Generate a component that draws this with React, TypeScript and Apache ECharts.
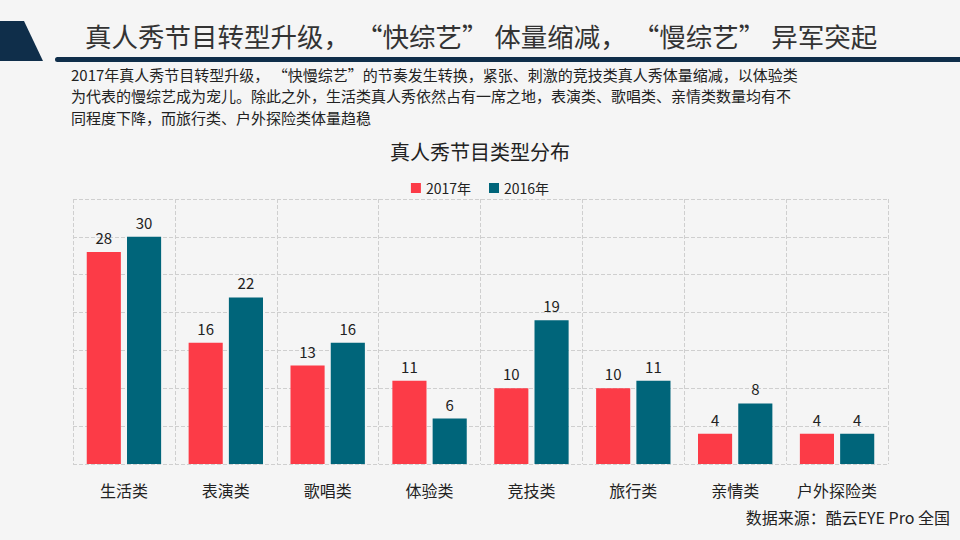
import React, { useEffect, useRef } from "react";
import * as echarts from "echarts";

const categories = ["生活类", "表演类", "歌唱类", "体验类", "竞技类", "旅行类", "亲情类", "户外探险类"];
const values2017 = [28, 16, 13, 11, 10, 10, 4, 4];
const values2016 = [30, 22, 16, 6, 19, 11, 8, 4];
const seriesNames = ["2017年", "2016年"];
const headline = "真人秀节目转型升级， “快综艺” 体量缩减， “慢综艺” 异军突起";
const introLines = [
  "2017年真人秀节目转型升级， “快慢综艺”的节奏发生转换，紧张、刺激的竞技类真人秀体量缩减，以体验类",
  "为代表的慢综艺成为宠儿。除此之外，生活类真人秀依然占有一席之地，表演类、歌唱类、亲情类数量均有不",
  "同程度下降，而旅行类、户外探险类体量趋稳",
];
const chartTitle = "真人秀节目类型分布";
const sourceText = "数据来源：酷云EYE Pro 全国";

const FONT = "'Noto Sans CJK SC', 'Noto Sans', sans-serif";
const RED = "#fc3b47";
const TEAL = "#00657a";
const NAVY = "#0f2e4a";

export default function App() {
  const ref = useRef<HTMLDivElement>(null);
  useEffect(() => {
    if (!ref.current) return;
    const chart = echarts.init(ref.current, null, { renderer: "svg" });
    const labelStyle = {
      show: true,
      position: "top",
      distance: 7,
      fontSize: 15,
      color: "#222",
      fontFamily: FONT,
    };
    chart.setOption({
      animation: false,
      backgroundColor: "#f5f5f5",
      textStyle: { fontFamily: FONT },
      title: {
        text: chartTitle,
        left: "center",
        top: 136,
        textStyle: { fontSize: 20, fontWeight: "normal", color: "#222", fontFamily: FONT },
      },
      legend: {
        top: 176,
        left: "center",
        itemWidth: 10,
        itemHeight: 10,
        itemGap: 18,
        icon: "rect",
        textStyle: { fontSize: 14, color: "#222", fontFamily: FONT },
        data: seriesNames,
      },
      grid: { left: 73, right: 72, top: 199, bottom: 76, containLabel: false },
      xAxis: {
        type: "category",
        data: categories,
        axisLine: { show: false },
        axisTick: { show: false },
        axisLabel: { fontSize: 16, color: "#222", margin: 18, fontFamily: FONT, interval: 0 },
        splitLine: { show: true, lineStyle: { type: "dashed", color: "#cfcfcf" } },
      },
      yAxis: {
        type: "value",
        min: 0,
        max: 35,
        interval: 5,
        axisLine: { show: false },
        axisTick: { show: false },
        axisLabel: { show: false },
        splitLine: { show: true, lineStyle: { type: "dashed", color: "#cfcfcf" } },
      },
      series: [
        {
          name: seriesNames[0],
          type: "bar",
          data: values2017,
          itemStyle: { color: RED },
          barGap: "18%",
          barCategoryGap: "27%",
          label: labelStyle,
        },
        {
          name: seriesNames[1],
          type: "bar",
          data: values2016,
          itemStyle: { color: TEAL },
          barGap: "18%",
          barCategoryGap: "27%",
          label: labelStyle,
        },
      ],
      graphic: [
        {
          type: "polygon",
          shape: { points: [[0, 21], [24, 21], [43, 61], [0, 61]] },
          style: { fill: NAVY },
        },
        {
          type: "rect",
          shape: { x: 55, y: 57, width: 910, height: 5, r: 2.5 },
          style: { fill: NAVY },
        },
        {
          type: "text",
          x: 85,
          y: 35,
          style: {
            text: headline,
            fontSize: 26.5,
            fill: "#333",
            fontFamily: FONT,
            verticalAlign: "middle",
          },
        },
        {
          type: "text",
          x: 71,
          y: 63.5,
          style: {
            text: introLines.join("\n"),
            fontSize: 15,
            lineHeight: 21.5,
            fill: "#222",
            fontFamily: FONT,
            verticalAlign: "top",
          },
        },
        {
          type: "text",
          x: 950,
          y: 517,
          style: {
            text: sourceText,
            fontSize: 16,
            fill: "#222",
            fontFamily: FONT,
            align: "right",
            verticalAlign: "middle",
          },
        },
      ],
    });
    return () => chart.dispose();
  }, []);
  return (
    <div
      ref={ref}
      style={{ position: "fixed", left: 0, top: 0, width: 960, height: 540 }}
    />
  );
}
